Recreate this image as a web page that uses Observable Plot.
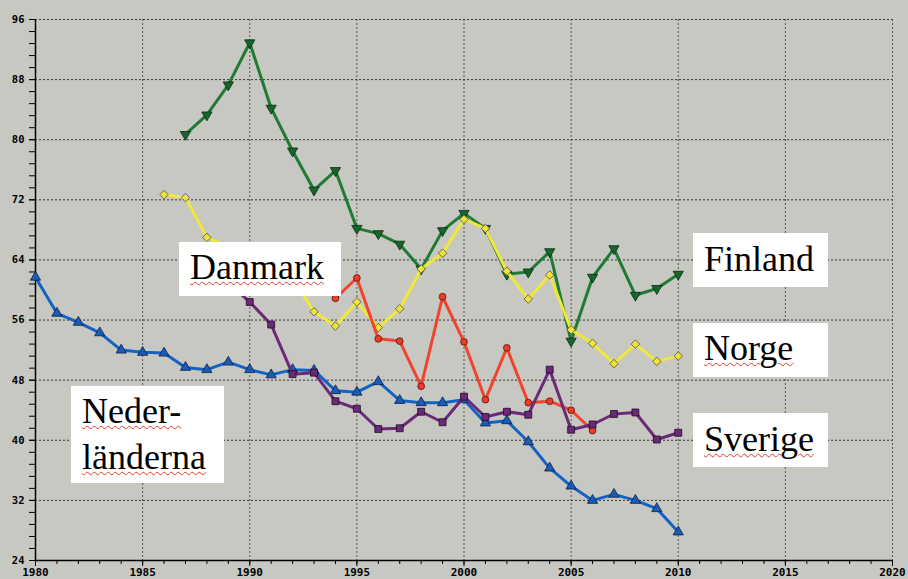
<!DOCTYPE html>
<html>
<head>
<meta charset="utf-8">
<script src="https://cdn.jsdelivr.net/npm/d3@7"></script>
<script src="https://cdn.jsdelivr.net/npm/@observablehq/plot@0.6"></script>
<style>
  html, body { margin: 0; padding: 0; background: #c8c8c3; }
  #wrap { position: relative; width: 908px; height: 579px; overflow: hidden; }
  #wrap svg text { font-weight: bold; fill: #000; }
  .lbl { position: absolute; background: #ffffff; }
  .lbl span { position: absolute; font-family: "Liberation Serif", "Times New Roman", serif; font-size: 36px; line-height: 40px; color: #000; white-space: nowrap; }
  .sp { text-decoration: underline wavy #e03a2a; text-decoration-thickness: 1px; text-underline-offset: 2px; }
</style>
</head>
<body>
<div id="wrap"></div>
<script>
// ---- Data ----
const xTicks = [1980, 1985, 1990, 1995, 2000, 2005, 2010, 2015, 2020];
const yTicks = [24, 32, 40, 48, 56, 64, 72, 80, 88, 96];

const nlYears = d3.range(1980, 2011);
const nlValues = [61.7, 56.9, 55.7, 54.3, 52.0, 51.7, 51.6, 49.7, 49.4, 50.4, 49.4, 48.7, 49.4, 49.3, 46.6, 46.4, 47.8, 45.3, 45.0, 45.0, 45.4, 42.3, 42.6, 39.8, 36.3, 33.9, 32.0, 32.8, 32.0, 30.9, 27.8];

const fiYears = d3.range(1987, 2011);
const fiValues = [80.7, 83.3, 87.3, 92.9, 84.2, 78.5, 73.3, 75.9, 68.2, 67.5, 66.1, 62.8, 67.9, 70.2, 68.2, 62.1, 62.4, 65.1, 53.2, 61.7, 65.5, 59.3, 60.2, 62.1];

const noYears = [1986, 1987, 1988, 1992, 1993, 1994, 1995, 1996, 1997, 1998, 1999, 2000, 2001, 2002, 2003, 2004, 2005, 2006, 2007, 2008, 2009, 2010];
const noValues = [72.7, 72.3, 67.0, 61.6, 57.1, 55.2, 58.4, 55.0, 57.5, 62.8, 64.9, 69.4, 68.2, 62.5, 58.8, 62.0, 54.7, 52.9, 50.2, 52.8, 50.5, 51.2];

const dkYears = d3.range(1994, 2007);
const dkValues = [58.9, 61.6, 53.5, 53.2, 47.2, 59.1, 53.1, 45.4, 52.3, 45.0, 45.2, 44.0, 41.3];

const seYears = d3.range(1989, 2011);
const seValues = [61.0, 58.4, 55.4, 48.8, 49.0, 45.2, 44.2, 41.5, 41.6, 43.8, 42.4, 45.8, 43.1, 43.8, 43.4, 49.4, 41.4, 42.1, 43.5, 43.7, 40.1, 41.0];

// ---- Tables ----
const table = (ys, vs) => ys.map((year, i) => ({year, value: vs[i]}));
const nl = table(nlYears, nlValues);
const fi = table(fiYears, fiValues);
const no = table(noYears, noValues);
const dk = table(dkYears, dkValues);
const se = table(seYears, seValues);

const xMinor = d3.range(1980, 2021, 1);
const yMinor = d3.range(0, 46).map(i => 24 + i * 1.6);

const lineOpts = {x: "year", y: "value", strokeWidth: 3, strokeLinejoin: "round", strokeLinecap: "round"};
const dotOpts = {x: "year", y: "value", strokeWidth: 0.8};

const chart = Plot.plot({
  width: 908,
  height: 579,
  marginLeft: 35,
  marginRight: 16,
  marginTop: 19,
  marginBottom: 19,
  style: {background: "#c8c8c3", color: "#000", fontFamily: "'DejaVu Sans Mono', monospace", fontSize: "10px", fontWeight: "bold"},
  x: {domain: [1980, 2020]},
  y: {domain: [24, 96]},
  marks: [
    Plot.gridX(xTicks.slice(1), {stroke: "#555", strokeOpacity: 1, strokeWidth: 1, strokeDasharray: "2,2"}),
    Plot.gridY(yTicks.slice(1), {stroke: "#333", strokeOpacity: 1, strokeWidth: 1, strokeDasharray: "2,2"}),
    Plot.axisY(yMinor, {tickSize: 6, text: null, stroke: "#000", label: null}),
    Plot.axisY(yTicks, {tickSize: 6, tickPadding: 5, tickFormat: d => String(d), stroke: "#000", label: null, fontSize: 10.5}),
    Plot.axisX(xMinor, {tickSize: 4, text: null, stroke: "#000", label: null}),
    Plot.axisX(xTicks, {tickSize: 6, tickPadding: 2, tickFormat: d => String(d), stroke: "#000", label: null, fontSize: 11}),
    Plot.ruleX([1980], {stroke: "#000", strokeWidth: 1.5}),
    Plot.ruleY([24], {stroke: "#000", strokeWidth: 1.5}),

    Plot.line(fi, {...lineOpts, stroke: "#1f7a34"}),
    Plot.dot(fi, {...dotOpts, symbol: "triangle", rotate: 180, r: 3.8, fill: "#17662b", stroke: "#082a10"}),

    Plot.line(no, {...lineOpts, stroke: "#f0e838"}),
    Plot.dot(no, {...dotOpts, symbol: "square", rotate: 45, r: 3.4, fill: "#eee336", stroke: "#555"}),

    Plot.line(dk, {...lineOpts, stroke: "#f0442e"}),
    Plot.dot(dk, {...dotOpts, symbol: "circle", r: 3.4, fill: "#ee3a26", stroke: "#4a1a10"}),

    Plot.line(nl, {...lineOpts, stroke: "#1462c4"}),
    Plot.dot(nl, {...dotOpts, symbol: "triangle", r: 3.8, fill: "#1a5cb8", stroke: "#0a1f44"}),

    Plot.line(se, {...lineOpts, stroke: "#6b2a78"}),
    Plot.dot(se, {...dotOpts, symbol: "square", r: 3.9, fill: "#6a2a78", stroke: "#1e0a22"})
  ]
});

const wrap = document.getElementById("wrap");
wrap.appendChild(chart);

// ---- Labels ----
const labels = [
  {lines: ["Danmark"], spell: true, left: 179, top: 242, w: 162, h: 54, tx: 11, ty: 5},
  {lines: ["Finland"], spell: false, left: 693, top: 233, w: 135, h: 54, tx: 11, ty: 6},
  {lines: ["Norge"], spell: true, left: 693, top: 323, w: 135, h: 54, tx: 11, ty: 5},
  {lines: ["Sverige"], spell: true, left: 693, top: 413, w: 135, h: 54, tx: 11, ty: 6},
  {lines: ["Neder-", "länderna"], spell: true, left: 71, top: 386, w: 153, h: 97, tx: 11, ty: 5}
];
for (const l of labels) {
  const box = document.createElement("div");
  box.className = "lbl";
  Object.assign(box.style, {left: l.left + "px", top: l.top + "px", width: l.w + "px", height: l.h + "px"});
  l.lines.forEach((t, i) => {
    const s = document.createElement("span");
    s.textContent = t;
    if (l.spell) s.className = "sp";
    Object.assign(s.style, {left: l.tx + "px", top: (l.ty + i * 45.5) + "px"});
    box.appendChild(s);
  });
  wrap.appendChild(box);
}
</script>
</body>
</html>
